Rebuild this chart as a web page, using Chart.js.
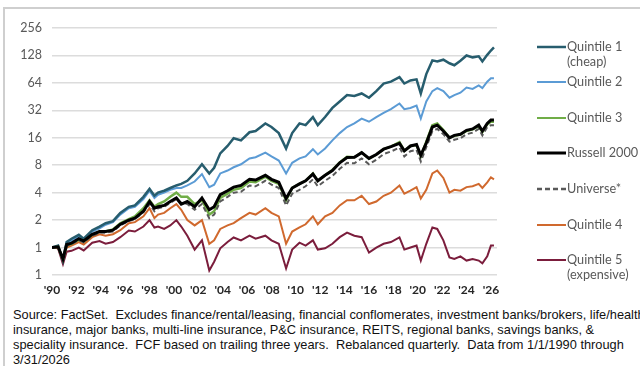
<!DOCTYPE html>
<html>
<head>
<meta charset="utf-8">
<script src="https://cdn.jsdelivr.net/npm/chart.js@4.4.1/dist/chart.umd.min.js"></script>
<style>
  html, body { margin: 0; padding: 0; background: #fff; }
  #wrap { position: relative; width: 640px; height: 366px; overflow: hidden; }
  #frame { position: absolute; left: 3px; top: 7px; right: -5px; bottom: -5px;
           border-left: 2px solid #cfcfcf; border-top: 2px solid #cfcfcf; }
  #chartBox { position: absolute; left: 0; top: 0; width: 640px; height: 300px; }
  #note { position: absolute; left: 13px; top: 307px; width: 640px; white-space: nowrap;
          font-family: "Liberation Sans", Arial, sans-serif; font-size: 12.8px; line-height: 15px; color: #111; }
</style>
</head>
<body>
<div id="wrap">
  <div id="frame"></div>
  <div id="chartBox"><canvas id="perfChart"></canvas></div>
  <div id="note">Source: FactSet.&nbsp; Excludes finance/rental/leasing, financial conflomerates, investment banks/brokers, life/health<br>insurance, major banks, multi-line insurance, P&amp;C insurance, REITS, regional banks, savings banks, &amp;<br>speciality insurance.&nbsp; FCF based on trailing three years.&nbsp; Rebalanced quarterly.&nbsp; Data from 1/1/1990 through<br>3/31/2026</div>
</div>
<script>
// growth of $1, log2 scale
const years = [1990.0, 1990.5, 1990.9, 1991.2, 1991.6, 1992.2, 1992.6, 1993.3, 1993.9, 1994.4,
  1995.0, 1995.6, 1996.3, 1996.8, 1997.5, 1998.0, 1998.4, 1998.7, 1999.2, 1999.7,
  2000.2, 2000.6, 2001.1, 2001.7, 2002.3, 2002.9, 2003.3, 2003.8, 2004.4, 2004.9,
  2005.5, 2006.2, 2006.7, 2007.5, 2008.0, 2008.6, 2009.2, 2009.7, 2010.3, 2010.8,
  2011.4, 2011.8, 2012.4, 2013.0, 2013.6, 2014.2, 2014.8, 2015.4, 2016.0, 2016.6,
  2017.2, 2017.8, 2018.5, 2018.9, 2019.4, 2019.9, 2020.25, 2020.7, 2021.2, 2021.6,
  2022.1, 2022.6, 2023.0, 2023.5, 2024.0, 2024.5, 2025.0, 2025.3, 2025.7, 2026.0, 2026.25];

const quintile1 = [1.0, 1.05, 0.72, 1.15, 1.25, 1.38, 1.25, 1.55, 1.7, 1.85,
  1.95, 2.4, 2.8, 2.9, 3.6, 4.4, 3.7, 4.0, 4.2, 4.5,
  4.8, 5.0, 5.4, 6.5, 8.2, 6.5, 7.5, 10.8, 13, 15.8,
  15, 18.4, 19, 23, 21, 18, 12.2, 18, 23, 22,
  27, 22, 27, 34, 40, 47, 46, 49, 44, 52,
  63, 66, 74, 63, 68, 70, 49, 80, 113, 110,
  115, 105, 100, 112, 128, 122, 125, 110, 130, 145, 157];

const quintile2 = [1.0, 1.03, 0.74, 1.12, 1.2, 1.33, 1.22, 1.5, 1.62, 1.78,
  1.9, 2.3, 2.7, 2.8, 3.4, 4.2, 3.5, 3.8, 4.0, 4.3,
  4.5, 4.5, 4.8, 5.3, 6.4, 4.6, 4.9, 6.5, 7, 7.6,
  8.2, 9.5, 9.8, 11, 10, 9, 6.5, 8.5, 9.5, 10,
  12, 10.5, 12.2, 15, 18, 21, 23, 26, 24, 27,
  30, 33, 38, 33, 34, 36, 26, 40, 52, 56,
  52, 44, 47, 50, 57, 55, 60, 56, 66, 72, 72];

const quintile3 = [1.0, 1.02, 0.74, 1.06, 1.1, 1.22, 1.16, 1.38, 1.5, 1.5,
  1.58, 1.85, 2.05, 2.2, 2.7, 3.3, 2.8, 3.0, 3.2, 3.6,
  4.0, 3.6, 3.6, 3.0, 3.3, 2.3, 2.5, 3.5, 3.9, 4.3,
  4.5, 5.3, 5.2, 6.0, 5.4, 5.0, 3.3, 4.5, 5.0, 5.4,
  6.5, 5.4, 6.2, 7.1, 8.6, 9.9, 9.8, 11, 9.4, 10.5,
  12, 12.8, 14.3, 11.5, 13, 13.3, 10, 14.5, 22, 23,
  19.5, 16, 16.8, 17.3, 19, 19.8, 21.5, 18.5, 22.5, 24, 24];

const russell2000 = [1.0, 1.02, 0.75, 1.08, 1.12, 1.25, 1.18, 1.4, 1.5, 1.5,
  1.55, 1.8, 2.0, 2.1, 2.5, 3.2, 2.7, 2.8, 2.9, 3.2,
  3.5, 3.0, 3.2, 2.8, 3.5, 2.6, 2.8, 3.8, 4.2, 4.6,
  4.8, 5.6, 5.5, 6.2, 5.6, 5.2, 3.45, 4.5, 5.0, 5.4,
  6.4, 5.4, 6.2, 7.0, 8.5, 9.7, 9.8, 11, 9.5, 10.5,
  12, 12.8, 13.9, 11.5, 13, 13.5, 10.3, 14, 21, 22,
  19, 16, 17, 17.5, 19.3, 20, 22, 19, 23, 25, 25];

const universe = [1.0, 1.02, 0.74, 1.05, 1.1, 1.2, 1.14, 1.35, 1.45, 1.45,
  1.5, 1.75, 1.95, 2.05, 2.45, 3.0, 2.5, 2.7, 2.8, 3.1,
  3.4, 3.1, 3.0, 2.6, 3.0, 2.1, 2.3, 3.2, 3.6, 4.0,
  4.1, 4.8, 4.7, 5.4, 4.9, 4.5, 2.9, 3.9, 4.3, 4.7,
  5.6, 4.7, 5.4, 6.1, 7.3, 8.5, 8.4, 9.5, 8.2, 9.2,
  10.6, 11.3, 12.5, 10, 11.4, 11.8, 8.8, 12.6, 19, 20,
  17.5, 14.5, 15.2, 15.8, 17.5, 18.2, 20, 17, 21, 22, 22];

const quintile4 = [1.0, 1.0, 0.73, 1.0, 1.05, 1.15, 1.08, 1.3, 1.4, 1.35,
  1.4, 1.55, 1.85, 1.9, 2.2, 2.7, 2.1, 2.3, 2.4, 2.7,
  3.0, 2.6, 2.0, 1.75, 2.0, 1.1, 1.2, 1.6, 1.75, 1.85,
  2.1, 2.4, 2.3, 2.7, 2.4, 2.2, 1.1, 1.5, 1.66, 1.8,
  2.2, 1.8, 2.2, 2.4, 2.9, 3.3, 3.3, 3.7, 3.0, 3.2,
  3.7, 4.0, 4.8, 3.9, 4.2, 4.6, 3.45, 4.3, 6.5, 7.0,
  5.8, 4.0, 4.3, 4.2, 4.6, 4.7, 5.0, 4.5, 5.2, 5.9, 5.6];

const quintile5 = [1.0, 0.98, 0.66, 0.9, 0.92, 1.0, 0.93, 1.13, 1.18, 1.1,
  1.15, 1.3, 1.54, 1.5, 1.7, 2.0, 1.66, 1.7, 1.6, 1.75,
  2.0, 1.7, 1.35, 0.95, 1.2, 0.56, 0.7, 0.98, 1.15, 1.29,
  1.2, 1.35, 1.25, 1.35, 1.2, 1.1, 0.59, 0.95, 1.13, 1.05,
  1.2, 0.95, 0.98, 1.1, 1.3, 1.46, 1.35, 1.3, 0.88, 1.0,
  1.1, 1.15, 1.29, 0.95, 1.0, 1.05, 0.72, 1.1, 1.66, 1.6,
  1.2, 0.78, 0.75, 0.8, 0.72, 0.75, 0.72, 0.67, 0.8, 1.05, 1.05];

const yTicks = [0.5, 1, 2, 4, 8, 16, 32, 64, 128, 256];

function pts(vals) {
  return vals.map((v, i) => ({ x: years[i], y: v }));
}

// legend on the right, two-line labels
const legendItems = [
  { text: ['Quintile 1', '(cheap)'], color: '#275d6e', y: 47, w: 2.5 },
  { text: ['Quintile 2'], color: '#5b9bd5', y: 82, w: 2 },
  { text: ['Quintile 3'], color: '#70ad47', y: 118, w: 2 },
  { text: ['Russell 2000'], color: '#000000', y: 153, w: 3 },
  { text: ['Universe*'], color: '#595959', y: 189, w: 2.5, dash: [5, 3] },
  { text: ['Quintile 4'], color: '#d0692e', y: 225, w: 2 },
  { text: ['Quintile 5', '(expensive)'], color: '#7b1d3c', y: 260, w: 2 }
];

const sideLegend = {
  id: 'sideLegend',
  afterDraw(chart) {
    const ctx = chart.ctx;
    ctx.save();
    legendItems.forEach(item => {
      ctx.beginPath();
      ctx.strokeStyle = item.color;
      ctx.lineWidth = item.w;
      ctx.setLineDash(item.dash || []);
      ctx.moveTo(537, item.y);
      ctx.lineTo(566, item.y);
      ctx.stroke();
      ctx.setLineDash([]);
      ctx.fillStyle = '#595959';
      ctx.font = '12.7px Lato';
      ctx.textBaseline = 'middle';
      item.text.forEach((t, k) => ctx.fillText(t, 567, item.y + k * 15));
    });
    ctx.restore();
  }
};

new Chart(document.getElementById('perfChart'), {
  type: 'line',
  data: {
    datasets: [
      { label: 'Russell 2000', data: pts(russell2000), borderColor: '#000000', borderWidth: 3, order: 1 },
      { label: 'Universe*', data: pts(universe), borderColor: '#595959', borderWidth: 2, borderDash: [5, 3], order: 2 },
      { label: 'Quintile 3', data: pts(quintile3), borderColor: '#70ad47', borderWidth: 2.5, order: 3 },
      { label: 'Quintile 1 (cheap)', data: pts(quintile1), borderColor: '#275d6e', borderWidth: 2.5, order: 4 },
      { label: 'Quintile 2', data: pts(quintile2), borderColor: '#5b9bd5', borderWidth: 2, order: 5 },
      { label: 'Quintile 4', data: pts(quintile4), borderColor: '#d0692e', borderWidth: 2, order: 6 },
      { label: 'Quintile 5 (expensive)', data: pts(quintile5), borderColor: '#7b1d3c', borderWidth: 2, order: 7 }
    ]
  },
  options: {
    responsive: true,
    maintainAspectRatio: false,
    animation: false,
    elements: { point: { radius: 0 }, line: { tension: 0 } },
    layout: { padding: { left: 0, right: 143, top: 28, bottom: 0 } },
    plugins: { legend: { display: false }, tooltip: { enabled: false } },
    scales: {
      x: {
        type: 'linear',
        min: 1990,
        max: 2026.5,
        grid: { display: false },
        border: { display: false },
        afterBuildTicks: scale => {
          const t = [];
          for (let y = 1990; y <= 2026; y += 2) t.push({ value: y });
          scale.ticks = t;
        },
        afterFit: scale => { scale.height = 25; },
        ticks: {
          color: '#262626',
          font: { family: 'Lato', size: 12, weight: 'bold' },
          maxRotation: 0,
          autoSkip: false,
          padding: 0,
          callback: v => "'" + String(v % 100).padStart(2, '0')
        }
      },
      y: {
        type: 'logarithmic',
        min: 0.5,
        max: 256,
        grid: { color: '#dcdcdc', lineWidth: 1.5, drawTicks: false },
        border: { display: false },
        afterBuildTicks: scale => { scale.ticks = yTicks.map(v => ({ value: v })); },
        afterFit: scale => { scale.width = 52; },
        ticks: {
          color: '#595959',
          font: { family: 'Lato', size: 12.5 },
          padding: 10,
          callback: v => String(Math.round(v))
        }
      }
    }
  },
  plugins: [sideLegend]
});
</script>
</body>
</html>
